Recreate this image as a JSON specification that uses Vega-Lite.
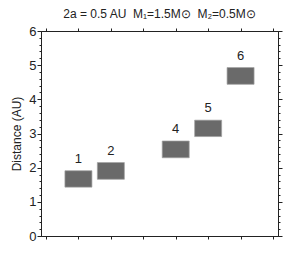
{
  "$schema": "https://vega.github.io/schema/vega-lite/v6.json",
  "autosize": "none",
  "width": 237,
  "height": 205,
  "padding": {"left": 41, "top": 31, "right": 29, "bottom": 30},
  "background": "white",
  "config": {
    "view": {"stroke": "#222", "strokeWidth": 1},
    "font": "Liberation Sans",
    "axis": {"domainColor": "#222", "tickColor": "#222", "labelColor": "#222", "titleColor": "#222", "grid": false}
  },
  "title": {
    "text": "2a = 0.5 AU\u00a0\u00a0M\u2081=1.5M\u2299\u00a0\u00a0M\u2082=0.5M\u2299",
    "fontSize": 12,
    "fontWeight": "normal",
    "font": "Liberation Sans",
    "color": "#222",
    "anchor": "middle",
    "offset": 4
  },
  "data": {
    "values": [
      {"n": 1, "label": "1", "lo": 1.43, "hi": 1.91},
      {"n": 2, "label": "2", "lo": 1.66, "hi": 2.15},
      {"n": 4, "label": "4", "lo": 2.29, "hi": 2.78},
      {"n": 5, "label": "5", "lo": 2.91, "hi": 3.39},
      {"n": 6, "label": "6", "lo": 4.44, "hi": 4.93}
    ]
  },
  "resolve": {"axis": {"x": "independent", "y": "independent"}},
  "layer": [
    {
      "mark": {"type": "bar", "width": 27, "fill": "#6a6a6a", "stroke": "#a0a0a0", "strokeWidth": 0.7},
      "encoding": {
        "x": {"field": "n", "type": "quantitative", "scale": {"domain": [0, 7], "nice": false, "zero": false},
          "axis": {"orient": "bottom", "values": [0, 1, 2, 3, 4, 5, 6, 7], "labels": false, "title": null, "tickSize": 3, "domain": true}},
        "y": {"field": "lo", "type": "quantitative", "scale": {"domain": [0, 6], "nice": false},
          "axis": {"orient": "left", "title": "Distance (AU)", "titleFontSize": 12, "titleFontWeight": "normal", "titlePadding": 5,
            "values": [0, 0.2, 0.4, 0.6, 0.8, 1, 1.2, 1.4, 1.6, 1.8, 2, 2.2, 2.4, 2.6, 2.8, 3, 3.2, 3.4, 3.6, 3.8, 4, 4.2, 4.4, 4.6, 4.8, 5, 5.2, 5.4, 5.6, 5.8, 6],
            "labelExpr": "abs(datum.value - round(datum.value)) < 0.01 ? format(datum.value, 'd') : ''",
            "labelOverlap": false, "labelFontSize": 13, "labelPadding": 1,
            "tickSize": {"condition": {"test": "abs(datum.value - round(datum.value)) < 0.01", "value": 4}, "value": 2}}},
        "y2": {"field": "hi"}
      }
    },
    {
      "mark": {"type": "text", "dy": -5, "fontSize": 13, "color": "#222", "baseline": "bottom"},
      "encoding": {
        "x": {"field": "n", "type": "quantitative", "scale": {"domain": [0, 7], "nice": false, "zero": false},
          "axis": {"orient": "top", "values": [0, 1, 2, 3, 4, 5, 6, 7], "labels": false, "title": null, "tickSize": 3, "domain": true}},
        "y": {"field": "hi", "type": "quantitative", "scale": {"domain": [0, 6], "nice": false},
          "axis": {"orient": "right", "title": null, "labels": false,
            "values": [0, 0.2, 0.4, 0.6, 0.8, 1, 1.2, 1.4, 1.6, 1.8, 2, 2.2, 2.4, 2.6, 2.8, 3, 3.2, 3.4, 3.6, 3.8, 4, 4.2, 4.4, 4.6, 4.8, 5, 5.2, 5.4, 5.6, 5.8, 6],
            "tickSize": {"condition": {"test": "abs(datum.value - round(datum.value)) < 0.01", "value": 4}, "value": 2}}},
        "text": {"field": "label"}
      }
    }
  ]
}
